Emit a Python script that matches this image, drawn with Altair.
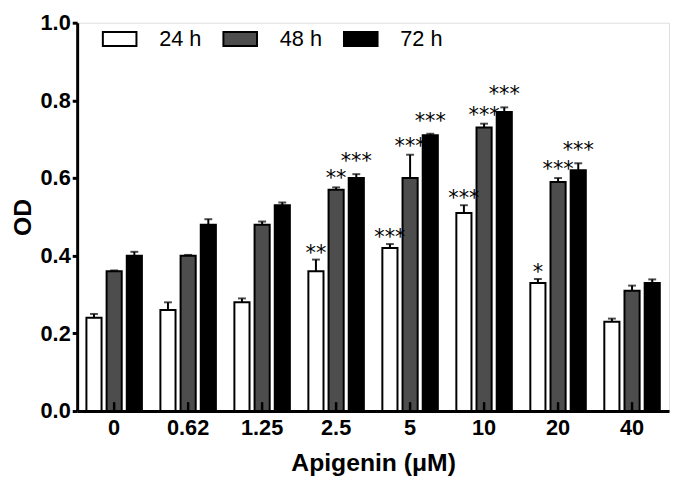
import altair as alt
import pandas as pd

doses = ["0", "0.62", "1.25", "2.5", "5", "10", "20", "40"]
times = ["24 h", "48 h", "72 h"]

od_24 = [0.24, 0.26, 0.28, 0.36, 0.42, 0.51, 0.33, 0.23]
err_24 = [0.01, 0.02, 0.01, 0.03, 0.01, 0.02, 0.01, 0.008]
od_48 = [0.36, 0.40, 0.48, 0.57, 0.60, 0.73, 0.59, 0.31]
err_48 = [0.002, 0.002, 0.008, 0.006, 0.06, 0.01, 0.01, 0.013]
od_72 = [0.40, 0.48, 0.53, 0.60, 0.71, 0.77, 0.62, 0.33]
err_72 = [0.01, 0.014, 0.007, 0.01, 0.004, 0.012, 0.018, 0.009]
stars_24 = ["", "", "", "**", "***", "***", "*", ""]
stars_48 = ["", "", "", "**", "***", "***", "***", ""]
stars_72 = ["", "", "", "***", "***", "***", "***", ""]

rows = []
for t, ods, errs, sts in zip(times, [od_24, od_48, od_72], [err_24, err_48, err_72],
                             [stars_24, stars_48, stars_72]):
    for d, v, e, s in zip(doses, ods, errs, sts):
        rows.append(dict(dose=d, time=t, od=v, hi=v + e, stars=s))
df = pd.DataFrame(rows)
tick_df = pd.DataFrame({"dose": doses})

W, H = 599, 393
FONT = "Liberation Sans"

x = alt.X(
    "dose:N", sort=doses,
    scale=alt.Scale(domain=doses, paddingInner=0.25, paddingOuter=0.125),
    axis=alt.Axis(title="Apigenin (μM)", labelAngle=0, ticks=False, tickSize=0,
                  domainWidth=3, domainColor="black", labelFont=FONT,
                  labelFontWeight="bold", labelFontSize=22, labelColor="black",
                  labelPadding=7, titleFont=FONT, titleFontSize=25,
                  titleFontWeight="bold", titleColor="black", titlePadding=12),
)
xo = alt.XOffset("time:N", sort=times,
                 scale=alt.Scale(domain=times, paddingInner=0.25, paddingOuter=0))
y = alt.Y(
    "od:Q",
    scale=alt.Scale(domain=[0, 1], nice=False, zero=True),
    axis=alt.Axis(values=[0, 0.2, 0.4, 0.6, 0.8, 1.0], format=".1f", title="OD",
                  grid=False, domainWidth=3, domainColor="black", tickWidth=3,
                  tickColor="black", tickSize=5, labelPadding=2, labelFont=FONT,
                  labelFontWeight="bold", labelFontSize=22, labelColor="black",
                  titleFont=FONT, titleFontSize=25, titleFontWeight="bold",
                  titleColor="black", titlePadding=5),
)
color = alt.Color(
    "time:N", sort=times,
    scale=alt.Scale(domain=times, range=["white", "#4d4d4d", "black"]),
    legend=alt.Legend(title=None, orient="none", legendX=25, legendY=-2,
                      direction="horizontal",
                      symbolType="M-1,-0.42H1V0.42H-1Z", symbolSize=1156,
                      symbolStrokeColor="black", symbolStrokeWidth=2,
                      symbolOpacity=1, labelFont=FONT, labelFontSize=22,
                      labelColor="black", labelOffset=22, columnPadding=18),
)

base = alt.Chart(df)
bars = base.mark_bar(stroke="black", strokeWidth=2, opacity=1).encode(
    x=x, xOffset=xo, y=y, color=color)
err = base.mark_rule(color="black", strokeWidth=2).encode(
    x=x, xOffset=xo, y="od:Q", y2="hi:Q")
caps = base.mark_tick(color="black", thickness=2, size=8, orient="horizontal").encode(
    x=x, xOffset=xo, y="hi:Q")
inner_ticks = alt.Chart(tick_df).mark_rule(color="black", strokeWidth=2.5).encode(
    x=x, y=alt.value(H), y2=alt.value(H - 9))

star_layers = []
for t, dy in zip(times, [0, -2, -6]):
    star_layers.append(
        base.transform_filter(alt.datum.time == t).mark_text(
            font="DejaVu Sans", fontSize=21, align="center", baseline="alphabetic",
            dy=dy, color="black"
        ).encode(x=x, xOffset=xo, y="hi:Q", text="stars:N")
    )

chart = alt.layer(bars, err, caps, inner_ticks, *star_layers).properties(
    width=W, height=H,
    autosize=alt.AutoSizeParams(type="none"),
    padding={"left": 70, "top": 12, "right": 4, "bottom": 75},
).configure_view(stroke=None).configure(background="white")

chart.save("out.html", embed_options={"renderer": "svg", "actions": False})
